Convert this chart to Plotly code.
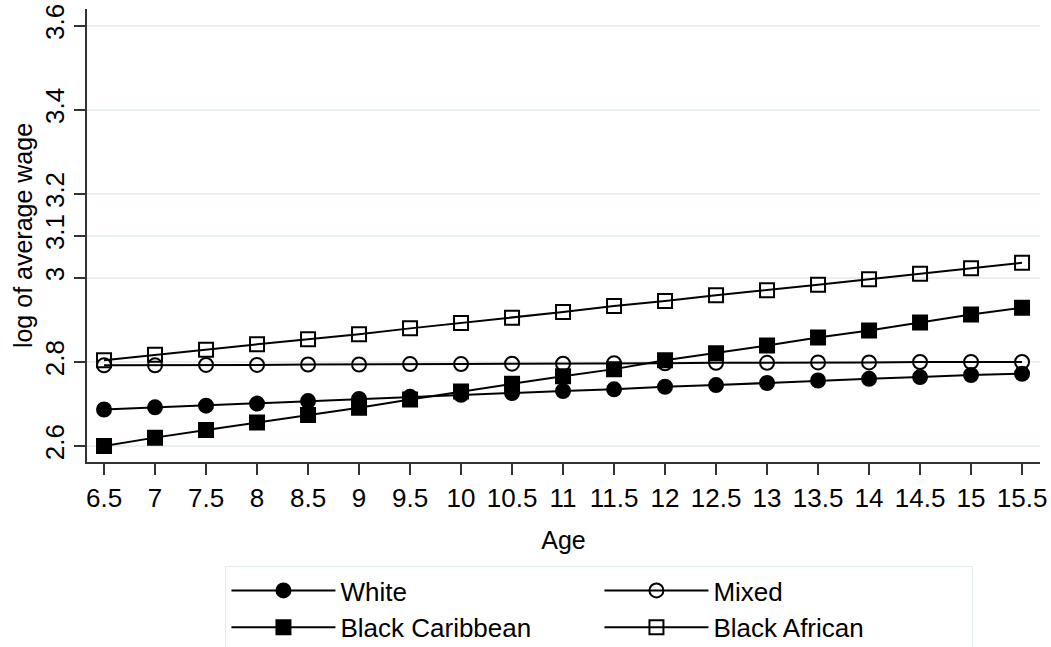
import plotly.graph_objects as go

ages = [6.5, 7, 7.5, 8, 8.5, 9, 9.5, 10, 10.5, 11, 11.5, 12, 12.5, 13, 13.5, 14, 14.5, 15, 15.5]
white = [2.687, 2.692, 2.696, 2.701, 2.707, 2.712, 2.717, 2.722, 2.726, 2.731, 2.735, 2.741, 2.745, 2.750, 2.756, 2.760, 2.764, 2.769, 2.772]
mixed = [2.792, 2.792, 2.793, 2.793, 2.794, 2.794, 2.795, 2.795, 2.796, 2.796, 2.797, 2.797, 2.798, 2.798, 2.799, 2.799, 2.800, 2.800, 2.800]
black_caribbean = [2.600, 2.620, 2.638, 2.656, 2.674, 2.691, 2.711, 2.730, 2.748, 2.766, 2.783, 2.804, 2.821, 2.839, 2.858, 2.875, 2.894, 2.913, 2.929]
black_african = [2.804, 2.817, 2.829, 2.842, 2.854, 2.866, 2.880, 2.893, 2.905, 2.919, 2.933, 2.945, 2.959, 2.971, 2.984, 2.997, 3.010, 3.023, 3.036]

y_ticks = [2.6, 2.8, 3, 3.1, 3.2, 3.4, 3.6]
y_ticklabels = ["2.6", "2.8", "3", "3.1", "3.2", "3.4", "3.6"]
x_ticks = ages
x_ticklabels = ["6.5", "7", "7.5", "8", "8.5", "9", "9.5", "10", "10.5", "11", "11.5",
                "12", "12.5", "13", "13.5", "14", "14.5", "15", "15.5"]

FONT = "Liberation Sans, Arial, Helvetica, sans-serif"

series = [
    ("White", white, "circle", 14),
    ("Mixed", mixed, "circle-open", 14),
    ("Black Caribbean", black_caribbean, "square", 14),
    ("Black African", black_african, "square-open", 14),
]

fig = go.Figure()
for name, vals, sym, sz in series:
    fig.add_trace(go.Scatter(
        x=ages, y=vals, name=name, mode="lines+markers",
        line=dict(color="black", width=2),
        marker=dict(symbol=sym, size=sz, color="black",
                    line=dict(color="black", width=2)),
    ))

fig.update_layout(
    width=1051, height=647,
    margin=dict(l=87, r=11, t=9, b=185),
    paper_bgcolor="white", plot_bgcolor="white",
    font=dict(family=FONT, size=24, color="black"),
    showlegend=True,
    legend=dict(
        orientation="h", xref="container", yref="container",
        x=0.2145, y=0.1252, xanchor="left", yanchor="top",
        bordercolor="#e3ecee", borderwidth=1, bgcolor="white",
        font=dict(family=FONT, size=26, color="black"),
        itemwidth=104, entrywidth=254, traceorder="normal",
    ),
    xaxis=dict(
        range=[6.333, 15.676], tickmode="array", tickvals=x_ticks, ticktext=x_ticklabels,
        showline=True, linecolor="#333333", linewidth=1.5,
        ticks="outside", ticklen=11, tickwidth=1.5, tickcolor="#333333",
        showgrid=False, zeroline=False, automargin=False,
        ticklabelstandoff=1,
        title=dict(text="Age", font=dict(size=25), standoff=20),
        tickfont=dict(size=26),
    ),
    yaxis=dict(
        range=[2.562, 3.640], tickmode="array", tickvals=y_ticks, ticktext=y_ticklabels,
        tickangle=-90, automargin=False,
        showline=True, linecolor="#333333", linewidth=1.5,
        ticks="outside", ticklen=11, tickwidth=1.5, tickcolor="#333333",
        showgrid=True, gridcolor="#e8f0f2", gridwidth=1.5, zeroline=False,
        title=dict(text="log of average wage", font=dict(size=25), standoff=0),
        tickfont=dict(size=26),
    ),
)

fig.write_html(
    "out.html",
    config={"displayModeBar": False},
    post_script="document.body.style.margin='0';document.body.style.overflow='hidden';",
)
